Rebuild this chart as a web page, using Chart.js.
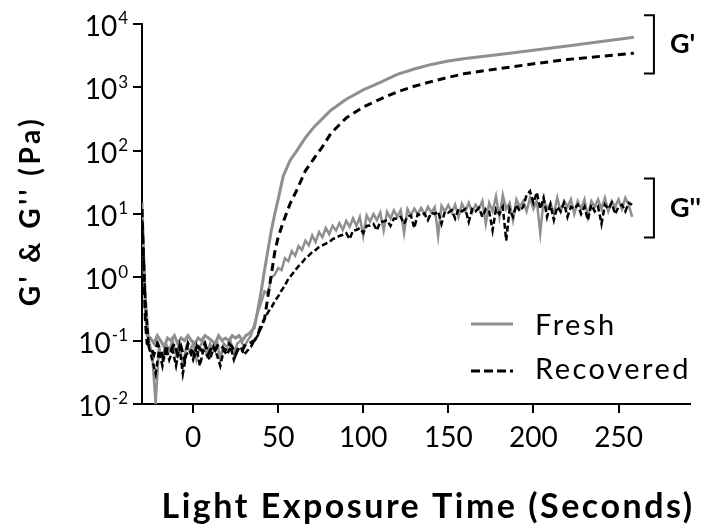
<!DOCTYPE html>
<html><head><meta charset="utf-8">
<script src="https://cdn.jsdelivr.net/npm/chart.js@4/dist/chart.umd.min.js"></script>
<style>html,body{margin:0;padding:0;background:#fff}#wrap{width:710px;height:525px;position:relative}</style>
</head><body><div id="wrap"><canvas id="c" width="710" height="525"></canvas></div>
<script>
// ---- data (rows of 10) ----
const timeGp = [
  -30,-29,-28,-27,-25,-23,-21,-19,-17,-15,
  -13,-11,-9,-7,-5,-3,-1,1,3,5,
  7,9,11,13,15,17,19,21,23,25,
  27,29,31,33,36,38,40,42,44,46,
  48,50,53,57,61,66,71,76,81,90,
  100,110,120,130,140,150,160,180,200,220,
  240,259];
const freshGp = [
  15,2,0.3,0.12,0.11,0.09,0.12,0.1,0.08,0.11,
  0.1,0.12,0.09,0.11,0.1,0.12,0.1,0.09,0.11,0.1,
  0.12,0.11,0.1,0.09,0.12,0.1,0.11,0.1,0.12,0.11,
  0.12,0.1,0.12,0.13,0.16,0.3,0.6,1.3,2.7,5.5,
  10,17,40,70,100,160,235,320,436,650,
  910,1200,1600,1950,2300,2600,2850,3300,3850,4500,
  5300,6200];
const recoveredGp = [
  12,1.5,0.2,0.09,0.08,0.06,0.09,0.07,0.05,0.08,
  0.07,0.09,0.06,0.08,0.05,0.09,0.07,0.06,0.08,0.07,
  0.09,0.06,0.08,0.07,0.09,0.08,0.07,0.09,0.08,0.06,
  0.08,0.07,0.09,0.09,0.1,0.12,0.18,0.22,0.5,1.1,
  2.5,4.3,7.5,14.5,24,48,75,115,188,330,
  490,650,850,1040,1230,1440,1650,1980,2350,2750,
  3100,3450];
const timeGpp = [
  -30,-28,-26,-24,-22,-20,-18,-16,-14,-12,
  -10,-8,-6,-4,-2,0,2,4,6,8,
  10,12,14,16,18,20,22,24,26,28,
  30,32,34,36,38,40,42,44,46,48,
  50,52,54,56,58,60,62,64,66,68,
  70,72,74,76,78,80,82,84,86,88,
  90,92,94,96,98,100,102,104,106,108,
  110,112,114,116,118,120,122,124,126,128,
  130,132,134,136,138,140,142,144,146,148,
  150,152,154,156,158,160,162,164,166,168,
  170,172,174,176,178,180,182,184,186,188,
  190,192,194,196,198,200,202,204,206,208,
  210,212,214,216,218,220,222,224,226,228,
  230,232,234,236,238,240,242,244,246,248,
  250,252,254,256,258];
const freshGpp = [
  10,0.5,0.1,0.06,0.01,0.08,0.05,0.09,0.07,0.1,
  0.06,0.09,0.04,0.08,0.07,0.09,0.05,0.08,0.1,0.06,
  0.09,0.07,0.1,0.05,0.09,0.08,0.1,0.06,0.09,0.1,
  0.08,0.1,0.12,0.18,0.28,0.4,0.6,0.55,1.0,1.1,
  1.4,1.3,2.0,1.8,2.6,2.2,3.1,2.7,3.8,3.2,
  4.6,3.6,5.2,4.3,6.0,4.8,6.5,5.5,7.2,5.6,
  7.8,6.3,8.5,6.5,9.0,4.5,9.5,7.6,10,8,
  10.5,5.5,10.8,8.5,11.5,9,11.5,5,12,9.5,
  12.2,10,12.5,9.8,13,10.5,12.8,4.5,13.5,11,
  13.8,10.5,14,9,14.5,11,15,10.5,14,12,
  16,7,15,11,19,9,20,12,15,8,
  17,13,16,11,18,12,16,5,17,12,
  15,10,18,11,16,13,17,10,16,12,
  17,9,16,13,17,12,18,11,16,13,
  17,12,18,14,9];
const recoveredGpp = [
  8,0.4,0.08,0.05,0.03,0.07,0.04,0.08,0.05,0.07,
  0.04,0.08,0.03,0.06,0.07,0.05,0.08,0.04,0.07,0.06,
  0.05,0.08,0.06,0.04,0.07,0.06,0.08,0.05,0.07,0.08,
  0.06,0.07,0.08,0.1,0.12,0.16,0.22,0.28,0.33,0.42,
  0.5,0.62,0.75,0.95,1.1,1.3,1.5,1.7,2.0,2.2,
  2.5,2.7,3.0,3.2,3.4,3.6,4.0,4.2,4.5,4.7,
  5.0,4.0,5.5,5.6,6.0,5.0,6.5,6.6,7.0,5.5,
  7.5,7.6,8.0,6.5,8.5,8.4,9.0,7,9.2,9.5,
  6,10,9.5,10.2,8,10.5,10,11,7,11,
  10.5,11.5,8.5,12,11,12,7.5,12,11,12.5,
  9,12,11,5.5,12,10,13,3.8,12,9,
  14,11,13,20,23,15,22,12,18,9,
  14,8,13,11,15,9,13,12,14,10,
  13,8,14,11,13,7,14,12,15,10,
  13,14,11,15,14];
const xTicks = [0,50,100,150,200,250];
const yTicks = [1e-2,1e-1,1,10,100,1000,10000];
const yTickBase = '10';
const yTickExp = ['-2','-1','0','1','2','3','4'];
const seriesNames = ['Fresh','Recovered'];
const xTitle = 'Light Exposure Time (Seconds)';
const yTitle = "G' & G'' (Pa)";
const brackets = [{label:"G'", from:10**3.22, to:10**4.14}, {label:"G''", from:10**0.63, to:10**1.56}];

const pts = (xs, ys) => xs.map((x,i)=>({x, y: ys[i]}));
const GRAY = '#8f8f8f', BLACK = '#000';
const FONT = 'Lato';

const overlay = {
  id:'overlay',
  afterDraw(chart){
    const ctx = chart.ctx, y = chart.scales.y, x = chart.scales.x;
    ctx.save();
    ctx.fillStyle = '#000';
    // y tick labels with superscripts
    yTicks.forEach((v,i)=>{
      const py = y.getPixelForValue(v);
      const rx = 128;
      ctx.font = `17px ${FONT}`;
      const ew = ctx.measureText(yTickExp[i]).width;
      ctx.textAlign = 'left'; ctx.textBaseline = 'middle';
      ctx.fillText(yTickExp[i], rx - ew, py - 5);
      ctx.font = `28px ${FONT}`;
      ctx.textAlign = 'right';
      ctx.fillText(yTickBase, rx - ew - 1, py + 3);
    });
    // axis titles
    ctx.letterSpacing = '2.5px';
    ctx.font = `bold 34px ${FONT}`; ctx.textAlign = 'center'; ctx.textBaseline = 'alphabetic';
    ctx.fillText(xTitle, 428, 518);
    ctx.save();
    ctx.translate(31, 211); ctx.rotate(-Math.PI/2);
    ctx.letterSpacing = '3.5px';
    ctx.font = `bold 28px ${FONT}`; ctx.textBaseline = 'middle';
    ctx.fillText(yTitle, 0, 0);
    ctx.restore();
    // legend
    ctx.lineWidth = 3;
    ctx.strokeStyle = GRAY; ctx.setLineDash([]);
    ctx.beginPath(); ctx.moveTo(471,324); ctx.lineTo(513,324); ctx.stroke();
    ctx.strokeStyle = BLACK; ctx.setLineDash([9,4]);
    ctx.beginPath(); ctx.moveTo(471,371); ctx.lineTo(513,371); ctx.stroke();
    ctx.setLineDash([]);
    ctx.letterSpacing = '2.5px';
    ctx.font = `29px ${FONT}`; ctx.textAlign='left'; ctx.textBaseline='middle';
    ctx.fillText(seriesNames[0], 535, 326);
    ctx.fillText(seriesNames[1], 535, 370);
    // brackets
    ctx.letterSpacing = '0px';
    const bx = x.getPixelForValue(270.8);
    ctx.lineWidth = 2; ctx.strokeStyle = '#000';
    brackets.forEach(b=>{
      const t = y.getPixelForValue(b.to), btm = y.getPixelForValue(b.from);
      ctx.beginPath(); ctx.moveTo(bx-10,t); ctx.lineTo(bx,t); ctx.lineTo(bx,btm); ctx.lineTo(bx-10,btm); ctx.stroke();
      ctx.font = `bold 27px ${FONT}`; ctx.textAlign='left'; ctx.textBaseline='middle';
      ctx.fillText(b.label, bx+16, (t+btm)/2);
    });
    ctx.restore();
  }
};

new Chart(document.getElementById('c'), {
  type: 'scatter',
  data: { datasets: [
    {label:"Recovered G'", data: pts(timeGp, recoveredGp), borderColor: BLACK, borderWidth: 3, borderDash:[8,5]},
    {label:"Recovered G''", data: pts(timeGpp, recoveredGpp), borderColor: BLACK, borderWidth: 2.5, borderDash:[6,3]},
    {label:"Fresh G'", data: pts(timeGp, freshGp), borderColor: GRAY, borderWidth: 3},
    {label:"Fresh G''", data: pts(timeGpp, freshGpp), borderColor: GRAY, borderWidth: 2.5},
  ].map(d=>Object.assign({showLine:true, pointRadius:0, fill:false, tension:0}, d)) },
  options: {
    responsive:false, animation:false, devicePixelRatio:1,
    layout:{padding:{left:0,right:20,top:24,bottom:0}},
    plugins:{legend:{display:false}, tooltip:{enabled:false}},
    scales:{
      x:{type:'linear', min:-30, max:292,
        afterBuildTicks: s=>{ s.ticks = xTicks.map(v=>({value:v})); },
        afterFit: s=>{ s.height = 121; },
        border:{display:true, color:'#000', width:2},
        grid:{display:true, drawOnChartArea:false, drawTicks:true, tickLength:9, color:'#000', lineWidth:2},
        ticks:{color:'#000', font:{family:FONT, size:28}, padding:8, maxRotation:0},
        title:{display:false}
      },
      y:{type:'logarithmic', min:0.01, max:10000,
        afterBuildTicks: s=>{ s.ticks = yTicks.map(v=>({value:v})); },
        afterFit: s=>{ s.width = 142; },
        border:{display:true, color:'#000', width:2},
        grid:{display:true, drawOnChartArea:false, drawTicks:true, tickLength:9, color:'#000', lineWidth:2},
        ticks:{display:false},
        title:{display:false}
      }
    }
  },
  plugins:[overlay]
});
</script></body></html>
